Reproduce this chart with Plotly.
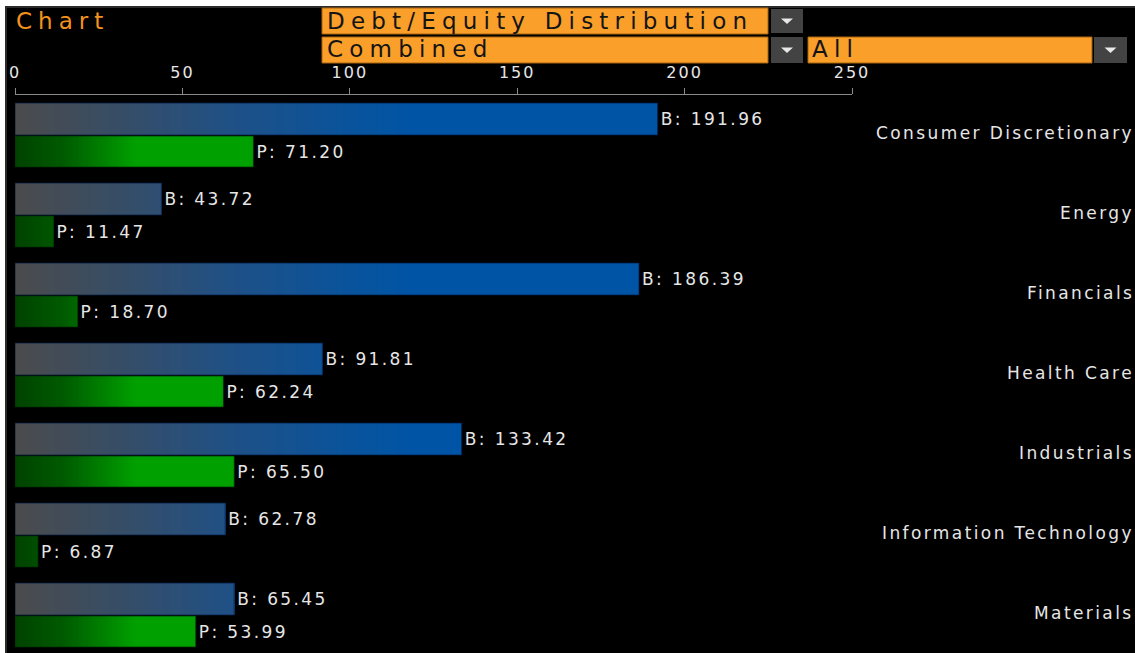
import plotly.graph_objects as go

categories = ["Consumer Discretionary", "Energy", "Financials", "Health Care",
              "Industrials", "Information Technology", "Materials"]
b_values = [191.96, 43.72, 186.39, 91.81, 133.42, 62.78, 65.45]
p_values = [71.20, 11.47, 18.70, 62.24, 65.50, 6.87, 53.99]
tick_values = [0, 50, 100, 150, 200, 250]

title_text = "Chart"
menu_texts = ["Debt/Equity Distribution", "Combined", "All"]

FONT = "DejaVu Sans"
TXT = "#e6e6e6"

# plot area in pixels (page is 1135 x 653)
L, T, W, H = 15, 95, 837, 558


def px(x):
    return (x - L) / W


def py(y):
    return 1 - (y - T) / H


def spaced(s, sp):
    return f"<span style='letter-spacing:{sp}px'>{s}</span>"


def hex_rgb(h):
    h = h.lstrip("#")
    return [int(h[i:i + 2], 16) for i in (0, 2, 4)]


def grad_color(stops, v):
    if v <= stops[0][0]:
        return stops[0][1]
    for (a, ca), (b, cb) in zip(stops, stops[1:]):
        if v <= b:
            t = (v - a) / (b - a)
            c1, c2 = hex_rgb(ca), hex_rgb(cb)
            return "rgb(%d,%d,%d)" % tuple(round(x + (y - x) * t) for x, y in zip(c1, c2))
    return stops[-1][1]


blue_stops = [(0, "#4b4b4b"), (40, "#314e6e"), (65, "#1f5086"), (95, "#0c5399"), (120, "#0054a6")]
green_stops = [(0, "#004200"), (15, "#005c00"), (36, "#00a000")]


def gradient_bar(values, stops, step, offset, width):
    # overlapping bars from 0, longest first, so each shorter one paints its own colour band
    end = stops[-1][0]
    ys, xs, cols = [], [], []
    for hi in [max(values)] + list(range(end, 0, -step)):
        col = grad_color(stops, min(hi, end + step / 2) - step / 2)
        for cat, v in zip(categories, values):
            w = min(v, hi)
            if w > 0:
                ys.append(cat)
                xs.append(w)
                cols.append(col)
    return go.Bar(y=ys, x=xs, orientation="h", offset=offset, width=width,
                  marker=dict(color=cols, line=dict(width=0)), hoverinfo="skip",
                  showlegend=False)


def outline_bar(values, prefix, offset, width, line_col):
    return go.Bar(y=categories, x=values, orientation="h", offset=offset, width=width,
                  marker=dict(color="rgba(0,0,0,0)", line=dict(color=line_col, width=1)),
                  texttemplate=spaced(prefix + ": %{x:.2f}", 2.4), textposition="outside",
                  textangle=0, constraintext="none", cliponaxis=False,
                  textfont=dict(family=FONT, size=17, color=TXT),
                  hoverinfo="skip", showlegend=False)


fig = go.Figure()
fig.add_trace(gradient_bar(b_values, blue_stops, 2, -0.4, 0.4))
fig.add_trace(gradient_bar(p_values, green_stops, 1, 0.0125, 0.3875))
fig.add_trace(outline_bar(b_values, "B", -0.4, 0.4, "rgba(0,25,70,0.7)"))
fig.add_trace(outline_bar(p_values, "P", 0.0125, 0.3875, "rgba(0,45,0,0.7)"))

shapes = []


def rect(x0, y0, x1, y1, fill, line=None):
    shapes.append(dict(type="rect", xref="paper", yref="paper", layer="above",
                       x0=px(x0), x1=px(x1), y0=py(y1), y1=py(y0), fillcolor=fill,
                       line=dict(width=1 if line else 0, color=line or fill)))


def arrow(cx, cy):
    shapes.append(dict(type="path", xref="paper", yref="paper", layer="above",
                       path=f"M{px(cx - 6)},{py(cy - 2.5)} L{px(cx + 6)},{py(cy - 2.5)} "
                            f"L{px(cx)},{py(cy + 3)} Z",
                       fillcolor="#e8e8e8", line=dict(width=0)))


# window frame
rect(0, 0, 1135, 6, "#ffffff")
rect(0, 0, 5, 653, "#ffffff")
rect(5, 6, 1135, 8, "#2b2b2b")
rect(5, 6, 7, 653, "#2b2b2b")

# header menus
ORANGE = "#f99f2a"
rect(322, 8, 768, 34, ORANGE, "#a8650f")
rect(322, 37, 768, 63, ORANGE, "#a8650f")
rect(808, 37, 1092, 63, ORANGE, "#a8650f")
rect(771, 9, 803, 33, "#434343")
rect(771, 37, 803, 63, "#434343")
rect(1094, 37, 1127, 63, "#434343")
arrow(787, 21)
arrow(787, 50)
arrow(1110.5, 50)

annotations = [
    dict(text=spaced(title_text, 6), x=px(14), y=py(21), xanchor="left", yanchor="middle",
         font=dict(family=FONT, size=23, color="#f5921e")),
    dict(text=spaced(menu_texts[0], 6.2), x=px(325), y=py(21), xanchor="left", yanchor="middle",
         font=dict(family=FONT, size=23, color="#141414")),
    dict(text=spaced(menu_texts[1], 6.2), x=px(325), y=py(49.5), xanchor="left", yanchor="middle",
         font=dict(family=FONT, size=23, color="#141414")),
    dict(text=spaced(menu_texts[2], 6.2), x=px(810), y=py(49.5), xanchor="left", yanchor="middle",
         font=dict(family=FONT, size=23, color="#141414")),
]
for a in annotations:
    a.update(xref="paper", yref="paper", showarrow=False)

for cat in categories:
    annotations.append(dict(text=spaced(cat, 2.4), xref="paper", yref="y", x=px(1136), y=cat,
                            xanchor="right", yanchor="middle", yshift=2, showarrow=False,
                            font=dict(family=FONT, size=17, color=TXT)))

fig.update_layout(
    width=1135, height=653,
    margin=dict(l=L, r=1135 - L - W, t=T, b=653 - T - H),
    paper_bgcolor="#000000", plot_bgcolor="#000000",
    barmode="overlay", showlegend=False, hovermode=False,
    font=dict(family=FONT, color=TXT),
    shapes=shapes, annotations=annotations,
    xaxis=dict(range=[0, 250], side="top", tickvals=tick_values,
               ticktext=[spaced(str(v), 2) for v in tick_values],
               showgrid=False, zeroline=False, showline=True, linecolor="#8a8a8a", linewidth=1,
               ticks="outside", ticklen=6, tickcolor="#8a8a8a", ticklabelstandoff=4,
               tickfont=dict(family=FONT, size=16, color=TXT), fixedrange=True),
    yaxis=dict(type="category", categoryorder="array", categoryarray=categories,
               range=[6.475, -0.5], showticklabels=False, showgrid=False, zeroline=False,
               showline=False, ticks="", fixedrange=True),
)

fig.write_html("out.html", config={"displayModeBar": False},
               post_script="document.body.style.margin='0';"
                           "document.documentElement.style.overflow='hidden';")
